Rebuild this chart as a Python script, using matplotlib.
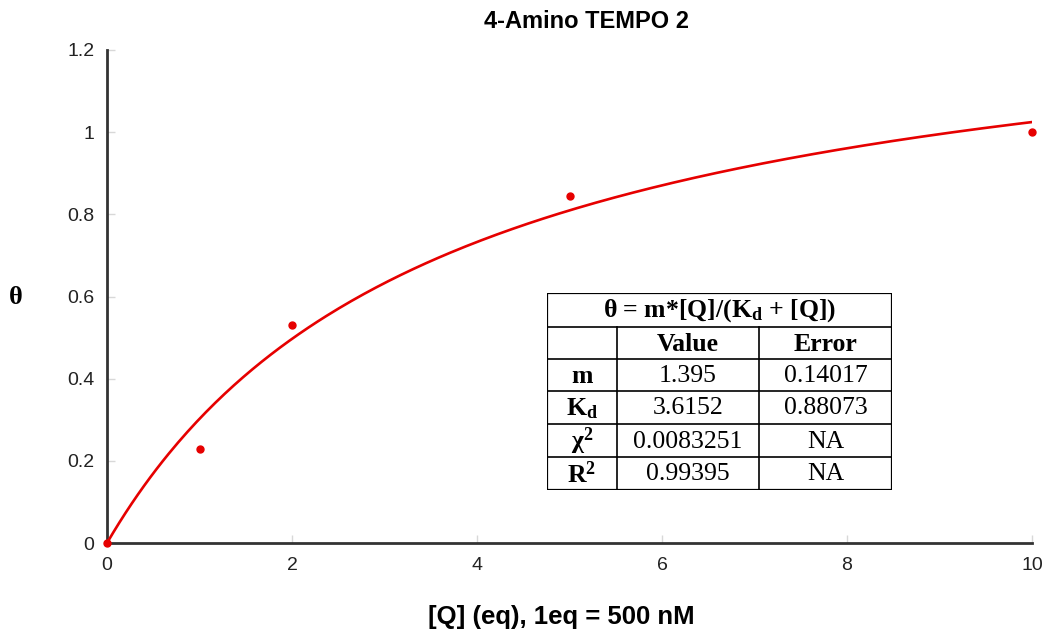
"""Binding isotherm for 4-Amino TEMPO 2 with the fitted hyperbola and the
fit-parameter table drawn in the plot area. Writes out.png."""
import matplotlib
matplotlib.use("Agg")
import matplotlib.pyplot as plt  # noqa: E402
import numpy as np  # noqa: E402

# measured points
q_eq = [0, 1, 2, 5, 10]
theta = [0.0, 0.23, 0.53, 0.845, 1.0]

# fit parameters theta = m*[Q]/(Kd + [Q])
m_fit, kd_fit = 1.395, 3.6152
table_rows = [
    ("m", "1.395", "0.14017"),
    (r"$\mathbf{K_d}$", "3.6152", "0.88073"),
    (r"$\mathbf{\chi^2}$", "0.0083251", "NA"),
    (r"$\mathbf{R^2}$", "0.99395", "NA"),
]
table_head = ("", "Value", "Error")
table_title = "θ = m*[Q]/(K$_\\mathbf{d}$ + [Q])"

RED = "#e60000"
SERIF = "Liberation Serif"
SANS = "Liberation Sans"
plt.rcParams["font.family"] = [SANS, "DejaVu Sans"]
plt.rcParams["mathtext.fontset"] = "custom"
plt.rcParams["mathtext.rm"] = SERIF
plt.rcParams["mathtext.bf"] = SERIF + ":bold"
plt.rcParams["mathtext.it"] = SERIF + ":italic"

W, H = 1047, 635
fig = plt.figure(figsize=(W / 100, H / 100), dpi=100)
ax = fig.add_axes([107 / W, 1 - 543 / H, (1032 - 107) / W, (543 - 50) / H])

xs = np.linspace(0, 10, 300)
ax.plot(xs, m_fit * xs / (kd_fit + xs), color=RED, lw=1.9, zorder=3)
ax.plot(q_eq, theta, "o", color=RED, ms=5, zorder=4, clip_on=False)

ax.set_xlim(0, 10)
ax.set_ylim(0, 1.2)
ax.set_xticks([0, 2, 4, 6, 8, 10])
ax.set_yticks([0, 0.2, 0.4, 0.6, 0.8, 1, 1.2])
ax.set_yticklabels(["0", "0.2", "0.4", "0.6", "0.8", "1", "1.2"])
ax.tick_params(direction="in", length=6, width=1, color="#d8d8d8",
               labelsize=14, labelcolor="#222222")
ax.tick_params(axis="x", pad=10)
ax.tick_params(axis="y", pad=9)
for sp in ("top", "right"):
    ax.spines[sp].set_visible(False)
for sp in ("left", "bottom"):
    ax.spines[sp].set_linewidth(2)
    ax.spines[sp].set_color("#333333")

fig.text(587 / W, 1 - 22 / H, "4-Amino TEMPO 2", ha="center", va="center",
         fontsize=17, fontweight="bold")
fig.text(561 / W, 1 - 617 / H, "[Q] (eq), 1eq = 500 nM", ha="center",
         va="center", fontsize=18.5, fontweight="bold")
fig.text(16 / W, 1 - 298 / H, "θ", ha="center", va="center",
         fontsize=19, fontweight="bold", family=SERIF)

# parameter table, drawn in pixel space
tx0, tx1 = 547, 892
col_edges = [547, 617, 759, 892]
row_edges = [293, 327, 359, 391, 424, 457, 490]
tab = fig.add_axes([tx0 / W, 1 - row_edges[-1] / H, (tx1 - tx0) / W,
                    (row_edges[-1] - row_edges[0]) / H])
tab.set_xlim(tx0, tx1)
tab.set_ylim(row_edges[-1], row_edges[0])
tab.axis("off")
tab.add_patch(plt.Rectangle((tx0, row_edges[0]), tx1 - tx0,
                            row_edges[-1] - row_edges[0], fc="white",
                            ec="black", lw=1.6))
for y in row_edges[1:-1]:
    tab.plot([tx0, tx1], [y, y], color="black", lw=1.2)
for x in col_edges[1:-1]:
    tab.plot([x, x], [row_edges[1], row_edges[-1]], color="black", lw=1.2)


def mid(a, i):
    return (a[i] + a[i + 1]) / 2


FS = 18.5
tab.text((tx0 + tx1) / 2, mid(row_edges, 0) + 1, table_title, ha="center",
         va="center", fontsize=FS, fontweight="bold", family=SERIF)
for j, h in enumerate(table_head):
    tab.text(mid(col_edges, j), mid(row_edges, 1) + 1, h, ha="center",
             va="center", fontsize=FS, fontweight="bold", family=SERIF)
for i, (name, val, err) in enumerate(table_rows):
    r = mid(row_edges, i + 2) + 1
    tab.text(mid(col_edges, 0), r, name, ha="center", va="center",
             fontsize=FS, fontweight="bold", family=SERIF)
    tab.text(mid(col_edges, 1), r, val, ha="center", va="center",
             fontsize=FS, family=SERIF)
    tab.text(mid(col_edges, 2), r, err, ha="center", va="center",
             fontsize=FS, family=SERIF)

fig.savefig("out.png", dpi=100)
